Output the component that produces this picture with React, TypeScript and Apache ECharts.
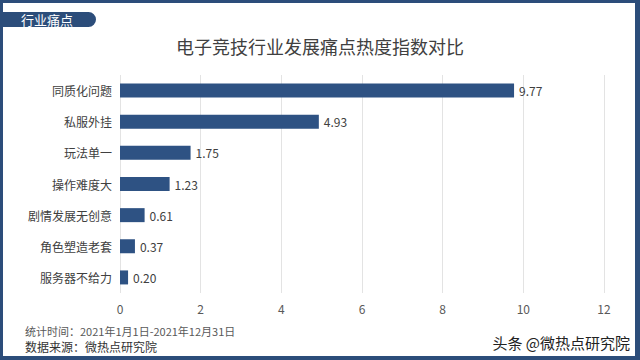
import React, { useEffect, useRef } from "react";
import * as echarts from "echarts";

const categories = ["同质化问题", "私服外挂", "玩法单一", "操作难度大", "剧情发展无创意", "角色塑造老套", "服务器不给力"];
const values = [9.77, 4.93, 1.75, 1.23, 0.61, 0.37, 0.2];
const titleText = "电子竞技行业发展痛点热度指数对比";
const tabText = "行业痛点";
const footer1 = "统计时间：2021年1月1日-2021年12月31日";
const footer2 = "数据来源：微热点研究院";
const watermark = "头条 @微热点研究院";

const FONT = "'Noto Sans CJK SC', 'Noto Sans', sans-serif";
const BLUE = "#2e5283";
const FRAME = "#2c4d7a";

export default function App() {
  const ref = useRef<HTMLDivElement>(null);
  useEffect(() => {
    document.body.style.margin = "0";
    const chart = echarts.init(ref.current!, null, { renderer: "svg" });
    chart.setOption({
      animation: false,
      backgroundColor: "#ffffff",
      textStyle: { fontFamily: FONT },
      title: {
        text: titleText,
        left: "center",
        top: 32,
        textStyle: { fontSize: 18, fontWeight: "normal", color: "#404040", fontFamily: FONT },
      },
      grid: { left: 120, right: 36, top: 75, bottom: 67, containLabel: false },
      xAxis: {
        type: "value",
        min: 0,
        max: 12,
        interval: 2,
        axisLine: { show: false },
        axisTick: { show: false },
        splitLine: { show: true, lineStyle: { color: "#e3e3e3", width: 1 } },
        axisLabel: { color: "#595959", fontSize: 12, margin: 9, fontFamily: FONT },
      },
      yAxis: {
        type: "category",
        data: categories,
        inverse: true,
        axisLine: { show: false },
        axisTick: { show: false },
        axisLabel: { color: "#404040", fontSize: 12, margin: 8, fontFamily: FONT },
      },
      series: [
        {
          type: "bar",
          data: values,
          barWidth: 14,
          itemStyle: { color: BLUE },
          label: {
            show: true,
            position: "right",
            distance: 5,
            color: "#404040",
            fontSize: 12,
            fontFamily: FONT,
            formatter: (p: any) => Number(p.value).toFixed(2),
          },
        },
      ],
      graphic: [
        { type: "rect", shape: { x: 0, y: 0, width: 640, height: 3 }, style: { fill: FRAME } },
        { type: "rect", shape: { x: 0, y: 0, width: 3, height: 360 }, style: { fill: FRAME } },
        { type: "rect", shape: { x: 635, y: 0, width: 5, height: 360 }, style: { fill: FRAME } },
        { type: "rect", shape: { x: 0, y: 356, width: 640, height: 4 }, style: { fill: FRAME } },
        { type: "rect", shape: { x: -10, y: 12, width: 106, height: 15, r: [0, 7.5, 7.5, 0] }, style: { fill: FRAME } },
        {
          type: "text",
          x: 47,
          y: 19.5,
          style: { text: tabText, fill: "#ffffff", fontSize: 13, fontFamily: FONT, align: "center", verticalAlign: "middle" },
        },
        {
          type: "text",
          x: 25,
          y: 331,
          style: { text: footer1, fill: "#595959", fontSize: 11, lineHeight: 12, fontFamily: FONT, align: "left", verticalAlign: "middle" },
        },
        {
          type: "text",
          x: 25,
          y: 346,
          style: { text: footer2, fill: "#333333", fontSize: 12, lineHeight: 13, fontFamily: FONT, align: "left", verticalAlign: "middle" },
        },
        {
          type: "text",
          x: 630,
          y: 342,
          style: {
            text: watermark,
            fill: "#222222",
            fontSize: 15,
            fontFamily: FONT,
            align: "right",
            verticalAlign: "middle",
            stroke: "#ffffff",
            lineWidth: 2,
          },
        },
      ],
    });
    return () => chart.dispose();
  }, []);
  return <div ref={ref} style={{ width: 640, height: 360 }} />;
}
